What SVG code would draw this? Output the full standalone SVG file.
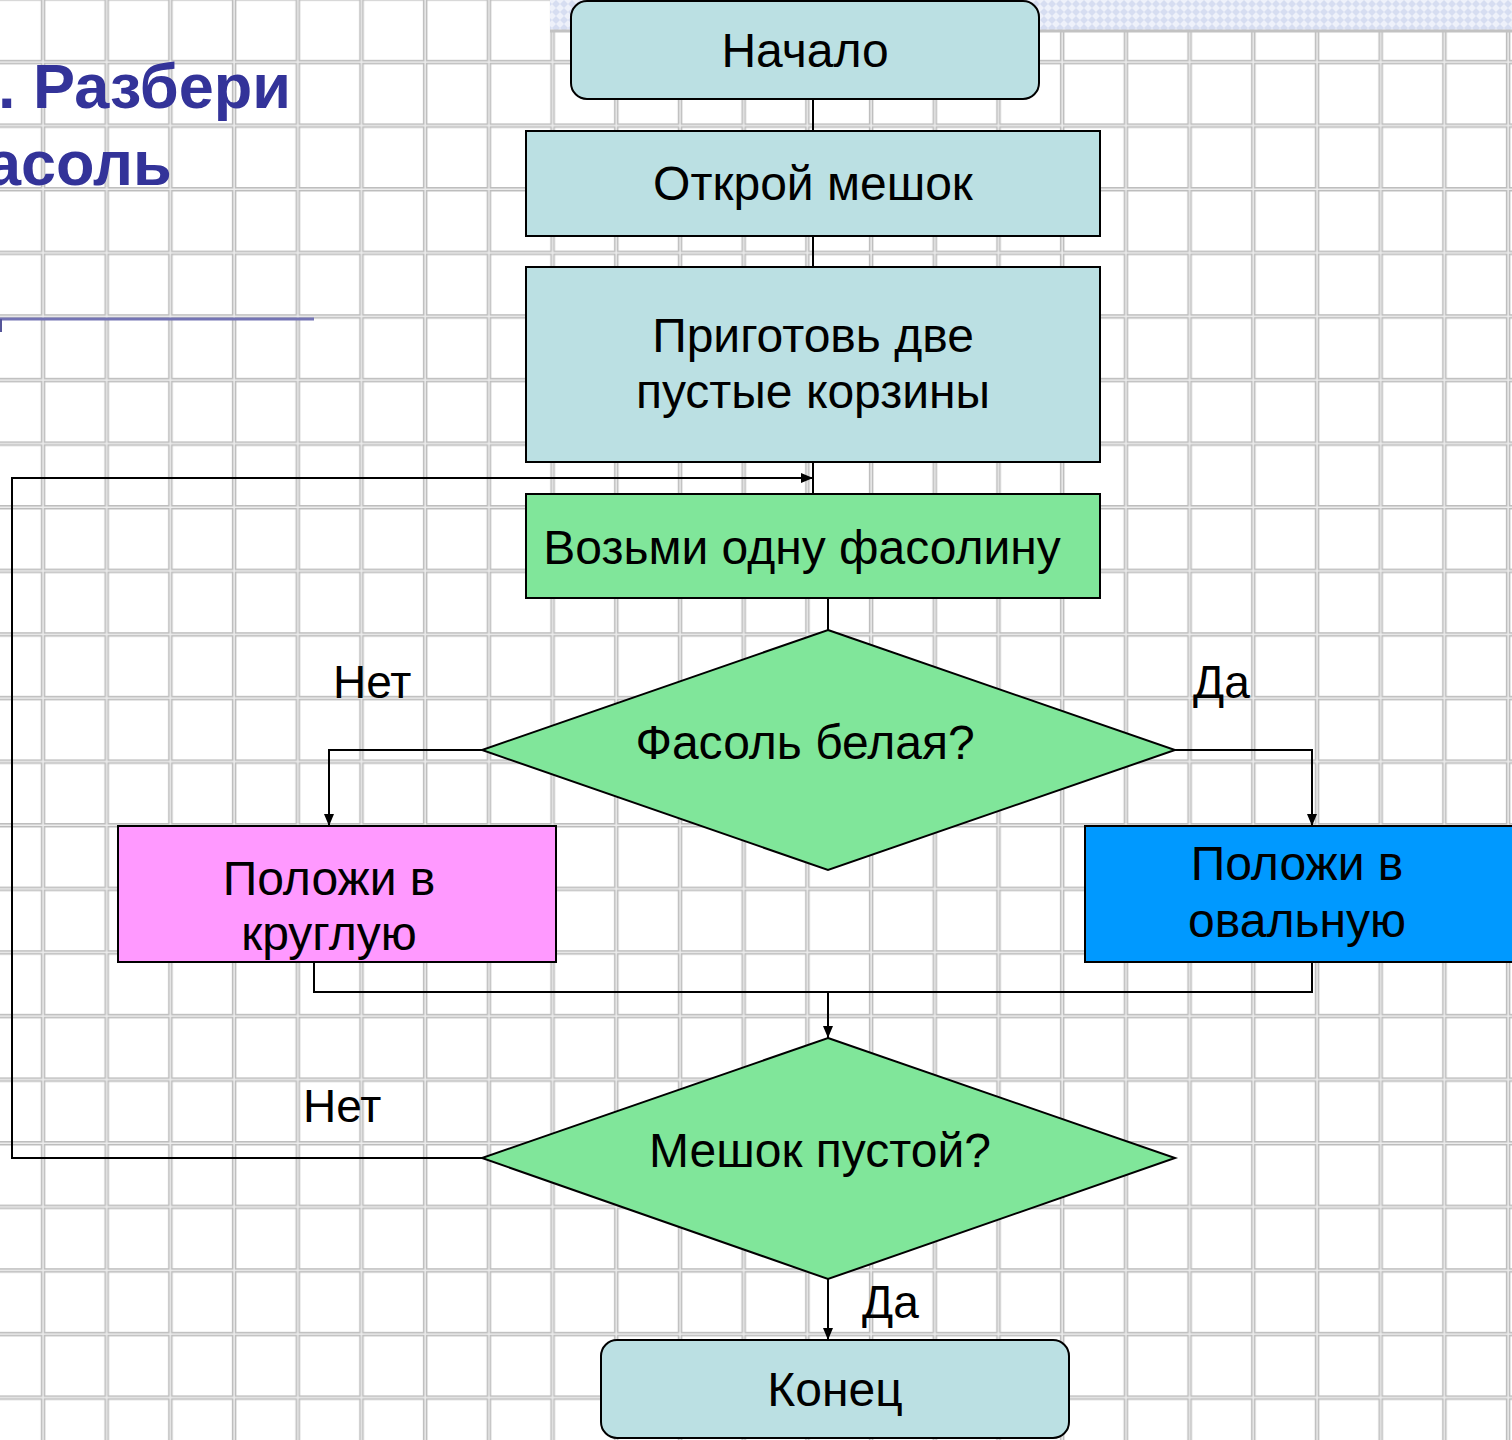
<svg xmlns="http://www.w3.org/2000/svg" width="1512" height="1440" viewBox="0 0 1512 1440">
<defs>
<style>
.node{stroke:#000;stroke-width:2}
.teal{fill:#bbe0e3}
.green{fill:#80e69a}
.t{font-family:"Liberation Sans",Arial,sans-serif;font-size:48px;fill:#000;text-anchor:middle}
.lbl{font-family:"Liberation Sans",Arial,sans-serif;font-size:46px;fill:#000}
.title{font-family:"Liberation Sans",Arial,sans-serif;font-size:63px;font-weight:bold;fill:#333399}
.conn{fill:none;stroke:#000;stroke-width:2}
</style>
<pattern id="grid" patternUnits="userSpaceOnUse" x="11" y="30" width="63.7" height="63.6">
<rect width="63.7" height="63.6" fill="#ffffff"/>
<line x1="32" y1="0" x2="32" y2="63.6" stroke="#bdbdbd" stroke-width="4.5"/>
<line x1="0" y1="32" x2="63.7" y2="32" stroke="#bdbdbd" stroke-width="4.5"/>
<line x1="32" y1="0" x2="32" y2="63.6" stroke="#ececec" stroke-width="1.5"/>
<line x1="0" y1="32" x2="63.7" y2="32" stroke="#ececec" stroke-width="1.5"/>
</pattern>
<pattern id="check" patternUnits="userSpaceOnUse" width="8" height="8">
<rect width="8" height="8" fill="#eef1fa"/>
<path d="M4,0 L8,4 L4,8 L0,4 Z" fill="#d6ddf1"/>
</pattern>
<marker id="arr" markerUnits="userSpaceOnUse" markerWidth="12" markerHeight="10" refX="12" refY="5" orient="auto">
<path d="M0,0 L12,5 L0,10 Z" fill="#000"/>
</marker>
</defs>

<rect width="1512" height="1440" fill="url(#grid)"/>
<rect x="550" y="0" width="962" height="30" fill="url(#check)"/>
<line x1="550" y1="31" x2="1512" y2="31" stroke="#c2c2c2" stroke-width="3"/>

<g id="title">
<text class="title" x="-2" y="108">. Разбери</text>
<text class="title" x="-14" y="185">асоль</text>
<line x1="0" y1="319" x2="314" y2="319" stroke="#7474b4" stroke-width="3"/>
<line x1="1" y1="319" x2="1" y2="332" stroke="#555599" stroke-width="2"/>
</g>

<g id="connectors">
<line class="conn" x1="813" y1="99" x2="813" y2="131"/>
<line class="conn" x1="813" y1="236" x2="813" y2="267"/>
<line class="conn" x1="813" y1="462" x2="813" y2="494"/>
<polyline class="conn" points="482,1158 12,1158 12,478 813,478" marker-end="url(#arr)"/>
<line class="conn" x1="828" y1="598" x2="828" y2="630"/>
<polyline class="conn" points="482,750 329,750 329,826" marker-end="url(#arr)"/>
<polyline class="conn" points="1175,750 1312,750 1312,826" marker-end="url(#arr)"/>
<polyline class="conn" points="314,962 314,992 1312,992 1312,962"/>
<line class="conn" x1="828" y1="992" x2="828" y2="1038" marker-end="url(#arr)"/>
<line class="conn" x1="828" y1="1279" x2="828" y2="1340" marker-end="url(#arr)"/>
</g>

<g id="start">
<rect class="node teal" x="571" y="1" width="468" height="98" rx="16"/>
<text class="t" x="805" y="67">Начало</text>
</g>
<g id="open">
<rect class="node teal" x="526" y="131" width="574" height="105"/>
<text class="t" x="813" y="200">Открой мешок</text>
</g>
<g id="prepare">
<rect class="node teal" x="526" y="267" width="574" height="195"/>
<text class="t" x="813" y="352">Приготовь две</text>
<text class="t" x="813" y="408">пустые корзины</text>
</g>
<g id="take">
<rect class="node green" x="526" y="494" width="574" height="104"/>
<text class="t" x="802" y="564">Возьми одну фасолину</text>
</g>
<g id="white">
<polygon class="node green" points="828,630 1175,750 828,870 482,750"/>
<text class="t" x="805" y="759">Фасоль белая?</text>
</g>
<g id="round">
<rect class="node" fill="#ff99ff" x="118" y="826" width="438" height="136"/>
<text class="t" x="329" y="895">Положи в</text>
<text class="t" x="329" y="950">круглую</text>
</g>
<g id="oval">
<rect class="node" fill="#0099ff" x="1085" y="826" width="440" height="136"/>
<text class="t" x="1297" y="880">Положи в</text>
<text class="t" x="1297" y="937">овальную</text>
</g>
<g id="empty">
<polygon class="node green" points="828,1038 1175,1158 828,1279 482,1158"/>
<text class="t" x="820" y="1167">Мешок пустой?</text>
</g>
<g id="end">
<rect class="node teal" x="601" y="1340" width="468" height="98" rx="16"/>
<text class="t" x="835" y="1406">Конец</text>
</g>

<g id="labels">
<text class="lbl" x="333" y="698">Нет</text>
<text class="lbl" x="1193" y="698">Да</text>
<text class="lbl" x="303" y="1122">Нет</text>
<text class="lbl" x="862" y="1318">Да</text>
</g>
</svg>
